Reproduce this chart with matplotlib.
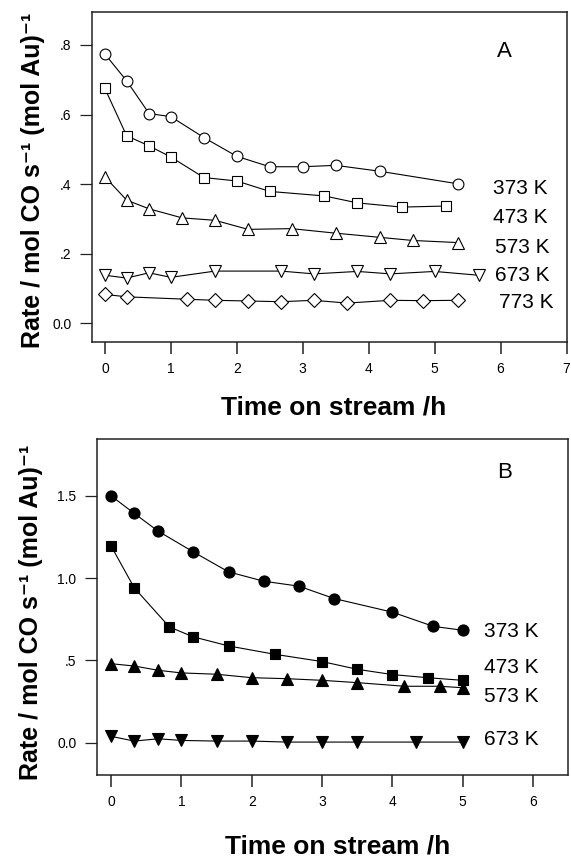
import matplotlib
matplotlib.use("Agg")
import matplotlib.pyplot as plt

plt.rcParams['font.family'] = ['Liberation Sans', 'DejaVu Sans']

# ---------------- Panel A data (open symbols) ----------------
a373_x = [0, 0.33, 0.67, 1.0, 1.5, 2.0, 2.5, 3.0, 3.5, 4.17, 5.35]
a373_y = [0.774, 0.697, 0.603, 0.594, 0.534, 0.480, 0.450, 0.450, 0.454, 0.437, 0.401]
a473_x = [0, 0.33, 0.67, 1.0, 1.5, 2.0, 2.5, 3.33, 3.83, 4.5, 5.17]
a473_y = [0.675, 0.539, 0.510, 0.478, 0.419, 0.409, 0.379, 0.366, 0.346, 0.334, 0.337]
a573_x = [0, 0.33, 0.67, 1.17, 1.67, 2.17, 2.83, 3.5, 4.17, 4.67, 5.35]
a573_y = [0.421, 0.354, 0.329, 0.303, 0.296, 0.270, 0.272, 0.259, 0.247, 0.238, 0.232]
a673_x = [0, 0.33, 0.67, 1.0, 1.67, 2.67, 3.17, 3.83, 4.33, 5.0, 5.67]
a673_y = [0.138, 0.130, 0.145, 0.132, 0.150, 0.150, 0.142, 0.149, 0.142, 0.149, 0.138]
a773_x = [0, 0.33, 1.25, 1.67, 2.17, 2.67, 3.17, 3.67, 4.33, 4.83, 5.35]
a773_y = [0.083, 0.076, 0.069, 0.066, 0.064, 0.062, 0.066, 0.058, 0.066, 0.065, 0.066]

a_labels = ["373 K", "473 K", "573 K", "673 K", "773 K"]
a_yticks = [0.0, 0.2, 0.4, 0.6, 0.8]
a_yticklabels = ["0.0", ".2", ".4", ".6", ".8"]
a_xticks = [0, 1, 2, 3, 4, 5, 6, 7]

# ---------------- Panel B data (filled symbols) ----------------
b373_x = [0, 0.33, 0.67, 1.17, 1.67, 2.17, 2.67, 3.17, 4.0, 4.58, 5.0]
b373_y = [1.50, 1.393, 1.285, 1.159, 1.038, 0.981, 0.951, 0.876, 0.793, 0.707, 0.683]
b473_x = [0, 0.33, 0.83, 1.17, 1.67, 2.33, 3.0, 3.5, 4.0, 4.5, 5.0]
b473_y = [1.196, 0.941, 0.703, 0.643, 0.588, 0.537, 0.493, 0.446, 0.414, 0.395, 0.379]
b573_x = [0, 0.33, 0.67, 1.0, 1.5, 2.0, 2.5, 3.0, 3.5, 4.17, 4.67, 5.0]
b573_y = [0.480, 0.466, 0.440, 0.424, 0.416, 0.395, 0.389, 0.379, 0.365, 0.343, 0.343, 0.334]
b673_x = [0, 0.33, 0.67, 1.0, 1.5, 2.0, 2.5, 3.0, 3.5, 4.33, 5.0]
b673_y = [0.039, 0.010, 0.024, 0.014, 0.010, 0.010, 0.004, 0.004, 0.004, 0.004, 0.004]

b_labels = ["373 K", "473 K", "573 K", "673 K"]
b_yticks = [0.0, 0.5, 1.0, 1.5]
b_yticklabels = ["0.0", ".5", "1.0", "1.5"]
b_xticks = [0, 1, 2, 3, 4, 5, 6]

ylabel = "Rate / mol CO s\u207b\u00b9 (mol Au)\u207b\u00b9"
xlabel = "Time on stream /h"

W, H = 571, 859
fig = plt.figure(figsize=(W / 100, H / 100), dpi=100)

def px_axes(left, top, right, bottom):
    return fig.add_axes([left / W, 1 - bottom / H, (right - left) / W, (bottom - top) / H])

axA = px_axes(91.5, 12.3, 566.5, 341.7)
axB = px_axes(96.6, 439.3, 568.3, 775.0)

frame_col = '#222222'
line_kw = dict(color='black', lw=0.8, mec='black', mew=0.8)

def style(ax, xlim, ylim, xticks, yticks, yticklabels):
    ax.set_xlim(*xlim)
    ax.set_ylim(*ylim)
    ax.set_xticks(xticks)
    ax.set_xticklabels([str(t) for t in xticks])
    ax.set_yticks(yticks)
    ax.set_yticklabels(yticklabels)
    for s in ax.spines.values():
        s.set_color(frame_col)
        s.set_linewidth(1.1)
    ax.tick_params(axis='x', direction='out', length=8.6, width=1.1, pad=6.0,
                   labelsize=10, colors=frame_col, labelcolor='black')
    ax.tick_params(axis='y', direction='out', length=9.0, width=0.9, pad=5.5,
                   labelsize=10, colors=frame_col, labelcolor='black')

# Panel A
style(axA, (-0.203, 7.0), (-0.053, 0.894), a_xticks, a_yticks, a_yticklabels)
axA.plot(a373_x, a373_y, marker='o', ms=7.8, mfc='white', **line_kw)
axA.plot(a473_x, a473_y, marker='s', ms=7.2, mfc='white', **line_kw)
axA.plot(a573_x, a573_y, marker='^', ms=8.2, mfc='white', **line_kw)
axA.plot(a673_x, a673_y, marker='v', ms=8.2, mfc='white', **line_kw)
axA.plot(a773_x, a773_y, marker='D', ms=6.8, mfc='white', **line_kw)

a_lab_x = [5.886, 5.886, 5.916, 5.916, 5.977]
a_lab_y = [0.387, 0.303, 0.218, 0.137, 0.060]
for t, x, y in zip(a_labels, a_lab_x, a_lab_y):
    axA.text(x, y, t, fontsize=15, ha='left', va='center')
axA.text(6.06, 0.781, "A", fontsize=16, ha='center', va='center')

# Panel B
style(axB, (-0.205, 6.5), (-0.196, 1.843), b_xticks, b_yticks, b_yticklabels)
axB.plot(b373_x, b373_y, marker='o', ms=8.0, mfc='black', **line_kw)
axB.plot(b473_x, b473_y, marker='s', ms=7.4, mfc='black', **line_kw)
axB.plot(b573_x, b573_y, marker='^', ms=8.2, mfc='black', **line_kw)
axB.plot(b673_x, b673_y, marker='v', ms=8.2, mfc='black', **line_kw)

b_lab_x = [5.305, 5.305, 5.305, 5.305]
b_lab_y = [0.677, 0.454, 0.282, 0.018]
for t, x, y in zip(b_labels, b_lab_x, b_lab_y):
    axB.text(x, y, t, fontsize=15, ha='left', va='center')
axB.text(5.59, 1.64, "B", fontsize=16, ha='center', va='center')

# Axis labels
for ax, ylx, yly, xly in [(axA, -0.1084, 0.49, -0.2225), (axB, -0.1232, 0.484, -0.2324)]:
    ax.set_ylabel(ylabel, fontsize=18, fontweight='bold', va='baseline')
    ax.yaxis.set_label_coords(ylx, yly)
    ax.set_xlabel(xlabel, fontsize=19, fontweight='bold', va='baseline')
    ax.xaxis.set_label_coords(0.51, xly)

fig.savefig("out.png", dpi=100)
